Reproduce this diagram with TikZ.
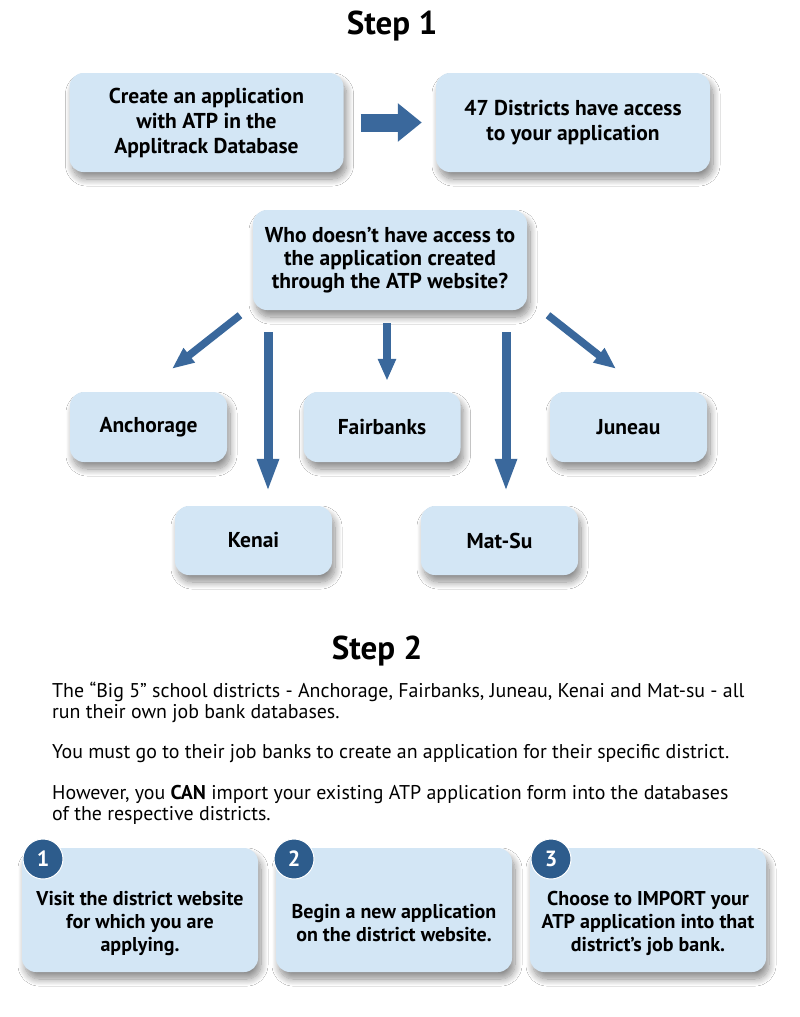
\documentclass[tikz,border=0pt]{standalone}
\usepackage{fontspec}
\setmainfont{PT Sans}
\usetikzlibrary{arrows.meta,calc,shadows.blur}
\definecolor{boxfill}{HTML}{D3E6F5}
\definecolor{arrowblue}{HTML}{3A689C}
\definecolor{circblue}{HTML}{2D5C8C}
\tikzset{
  box/.style={fill=boxfill, rounded corners=14pt, align=center, inner sep=0pt,
    font=\fontsize{21.5}{25}\selectfont\bfseries,
    blur shadow={shadow xshift=3pt, shadow yshift=-7pt, shadow blur steps=12, shadow opacity=45, shadow blur radius=7pt}},
  smallbox/.style={box, minimum width=157pt, minimum height=70pt},
  bigbox/.style={box, minimum width=274pt, minimum height=99pt},
  stepbox/.style={box, minimum width=236pt, minimum height=124pt},
  boxtext/.style={align=center, inner sep=0pt, font=\fontsize{20}{23}\selectfont\bfseries},
  paraline/.style={anchor=base west, inner sep=0pt, font=\fontsize{19.9}{21}\selectfont},
  longarrow/.style={draw=arrowblue, line width=9pt, -{Triangle[width=20pt,length=33pt]}},
  shortarrow/.style={draw=arrowblue, line width=7.5pt, -{Triangle[width=17pt,length=22pt]}},
  fatarrow/.style={draw=arrowblue, line width=18pt, -{Triangle[width=37pt,length=24pt]}},
  numcirc/.style={circle, fill=circblue, draw=white, line width=1pt, minimum size=40pt, inner sep=0pt, text=white, font=\fontsize{22}{22}\selectfont\bfseries},
  title/.style={font=\fontsize{33}{33}\selectfont\bfseries, inner sep=0pt},
}
\begin{document}
\begin{tikzpicture}[x=1pt,y=-1pt]
\useasboundingbox[fill=white] (0,0) rectangle (800,1017);
\node[title] (s1) at (392,26) {Step 1};
\node[bigbox] (A) at (206.5,122.5) {Create an application\\with ATP in the\\Applitrack Database};
\node[bigbox] (B) at (573,122.5) {47 Districts have access\\to your application};
\draw[fatarrow, shorten <=17pt, shorten >=14pt] (A.east) -- (B.west);
\node[bigbox, minimum height=100pt, font=\fontsize{21.5}{23}\selectfont\bfseries] (Q) at (390,260) {Who doesn’t have access to\\the application created\\through the ATP website?};
\node[smallbox] (anch) at (148.5,427) {Anchorage};
\node[smallbox] (fair) at (382,427) {Fairbanks};
\node[smallbox] (jun) at (628.5,427) {\raisebox{-5pt}{Juneau}};
\node[smallbox, minimum height=69pt] (ken) at (253.5,540.5) {Kenai};
\node[smallbox, minimum height=69pt] (mat) at (499.5,540.5) {Mat-Su};
\draw[shortarrow] ($(Q.south)+(-150,5)$) -- ($(anch.north)+(23.5,-23)$);
\draw[longarrow] ($(Q.south)+(-122,22)$) -- ($(ken.north)+(14.5,-14)$);
\draw[shortarrow] ($(Q.south)+(-3,13)$) -- ($(fair.north)+(5,-11)$);
\draw[longarrow] ($(Q.south)+(116,22)$) -- ($(mat.north)+(6.5,-14)$);
\draw[shortarrow] ($(Q.south)+(158,5)$) -- ($(jun.north)+(-12.5,-23)$);
\node[title] (s2) at (377,651) {Step 2};
\node[paraline] (p1) at (52,697) {The “Big 5” school districts - Anchorage, Fairbanks, Juneau, Kenai and Mat-su - all};
\node[paraline] (p2) at (52,718) {run their own job bank databases.};
\node[paraline] (p3) at (52,758) {You must go to their job banks to create an application for their specific district.};
\node[paraline] (p4) at (52,799) {However, you \textbf{CAN} import your existing ATP application form into the databases};
\node[paraline] (p5) at (52,820) {of the respective districts.};
\node[stepbox] (b1) at (140,910) {};
\node[stepbox] (b2) at (394,910) {};
\node[stepbox] (b3) at (648,910) {};
\node[boxtext] (t1) at ($(b1)+(0,13)$) {Visit the district website\\for which you are\\applying.};
\node[boxtext] (t2) at ($(b2)+(0,13)$) {Begin a new application\\on the district website.};
\node[boxtext] (t3) at ($(b3)+(0,13)$) {Choose to IMPORT your\\ATP application into that\\district’s job bank.};
\node[numcirc] (c1) at (43,859) {1};
\node[numcirc] (c2) at (294,859) {2};
\node[numcirc] (c3) at (551,859) {3};
\end{tikzpicture}
\end{document}
